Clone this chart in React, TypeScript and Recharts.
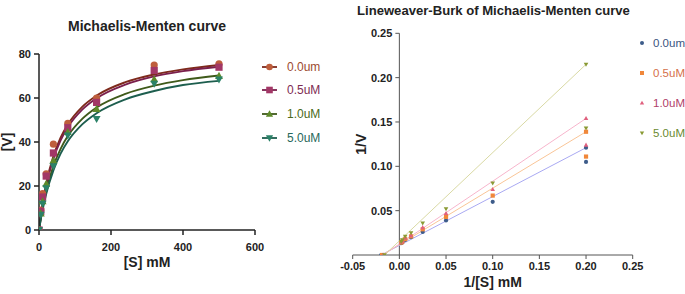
import React from 'react';
import {
  ComposedChart, Line, Scatter, XAxis, YAxis, Legend, ReferenceLine,
} from 'recharts';

// ---------- Left chart: Michaelis-Menten ----------
const mmSeriesNames = ['0.0um', '0.5uM', '1.0uM', '5.0uM'];
const mmS = [0, 5, 10, 20, 40, 80, 160, 320, 500];
const mmV00 = [0, 9, 16.5, 25.5, 39, 48.5, 60, 75, 75.5];
const mmV05 = [0, 8.5, 15, 24.5, 35, 46.5, 58, 72.5, 74];
const mmV10 = [0, 7.5, 13, 21, 31.5, 44.5, 55, 68.5, 70];
const mmV50 = [0, 7, 12, 19, 29, 43, 50.5, 66.5, 68.5];

// fitted curves
const fitS = [0, 5, 10, 20, 40, 60, 80, 120, 160, 240, 320, 400, 500];
const fitV00 = [0, 6.5, 12.0, 21.0, 33.6, 42.0, 48.0, 56.0, 61.1, 67.2, 70.7, 73.0, 75.0];
const fitV05 = [0, 6.1, 11.4, 20.1, 32.4, 40.7, 46.7, 54.7, 59.9, 66.1, 69.8, 72.2, 74.2];
const fitV10 = [0, 5.3, 10.0, 17.8, 29.1, 36.9, 42.7, 50.5, 55.7, 61.9, 65.6, 68.1, 70.2];
const fitV50 = [0, 4.9, 9.2, 16.4, 27.1, 34.7, 40.3, 48.0, 53.1, 59.4, 63.2, 65.9, 67.8];

const mmXTicks = [0, 200, 400, 600];
const mmYTicks = [0, 20, 40, 60, 80];

// ---------- Right chart: Lineweaver-Burk ----------
const lbX = [0.2, 0.2, 0.1, 0.05, 0.025, 0.0125, 0.00625, 0.003125, 0.002];
const lbY00 = [0.121, 0.105, 0.060, 0.039, 0.026, 0.020, 0.017, 0.014, 0.0135];
const lbY05 = [0.139, 0.111, 0.067, 0.043, 0.029, 0.021, 0.018, 0.015, 0.014];
const lbY10 = [0.154, 0.124, 0.074, 0.047, 0.031, 0.022, 0.019, 0.016, 0.0145];
const lbY50 = [0.215, 0.143, 0.081, 0.052, 0.036, 0.025, 0.021, 0.017, 0.015];
const lbIntercepts = [-0.0195, -0.0185, -0.0175, -0.016];
const lbLineEndX = 0.2;
const lbXTicks = [-0.05, 0, 0.05, 0.1, 0.15, 0.2, 0.25];
const lbYTicks = [0.05, 0.1, 0.15, 0.2, 0.25];

const FONT = '"Liberation Sans", Arial, sans-serif';

const zip = (xs: number[], ys: number[]) => xs.map((x, i) => ({ x, y: ys[i] }));

type Kind = 'circle' | 'square' | 'triangle' | 'triangleDown';

const markerPath = (kind: Kind, cx: number, cy: number, s: number, fill: string) => {
  if (kind === 'circle') return <circle cx={cx} cy={cy} r={s} fill={fill} />;
  if (kind === 'square') return <rect x={cx - s} y={cy - s} width={2 * s} height={2 * s} fill={fill} />;
  if (kind === 'triangle')
    return <polygon points={`${cx},${cy - s * 1.15} ${cx - s * 1.1},${cy + s * 0.8} ${cx + s * 1.1},${cy + s * 0.8}`} fill={fill} />;
  return <polygon points={`${cx},${cy + s * 1.15} ${cx - s * 1.1},${cy - s * 0.8} ${cx + s * 1.1},${cy - s * 0.8}`} fill={fill} />;
};

const shapeOf = (kind: Kind, fill: string, s: number) => (props: any) => {
  const { cx, cy } = props;
  if (cx == null || cy == null) return <g />;
  return markerPath(kind, cx, cy, s, fill);
};

const kinds: Kind[] = ['circle', 'square', 'triangle', 'triangleDown'];

// left colours
const mmLineColors = ['#7E2A1C', '#7A1F4C', '#3F5A1A', '#1D5E4E'];
const mmMarkerColors = ['#BE5E3C', '#A23766', '#5E8A2A', '#2B8268'];
const mmTextColors = ['#9C4A30', '#7E2C52', '#4A6A20', '#27685A'];

// right colours
const lbLineColors = ['#A9A9F2', '#F9C597', '#F7B5CC', '#D9D9A4'];
const lbMarkerColors = ['#3D5C8A', '#F0873A', '#E0607E', '#8A9A34'];
const lbTextColors = ['#3A5580', '#D5704A', '#B04068', '#6A8A30'];

const mmPoints = [mmV00, mmV05, mmV10, mmV50].map((v) => zip(mmS, v));
const mmFits = [fitV00, fitV05, fitV10, fitV50].map((v) => zip(fitS, v));
const lbPointsAll = [lbY00, lbY05, lbY10, lbY50].map((v, i) => [
  ...zip(lbX, v),
  { x: lbIntercepts[i], y: 0 },
]);
const lbLines = [lbY00, lbY05, lbY10, lbY50].map((v, i) => [
  { x: lbIntercepts[i], y: 0 },
  { x: lbLineEndX, y: v[0] },
]);

const LeftLegend = () => (
  <div style={{ fontFamily: FONT, fontSize: 12 }}>
    {mmSeriesNames.map((n, i) => (
      <div key={n} style={{ display: 'flex', alignItems: 'center', height: 23.6 }}>
        <svg width={16} height={12} style={{ marginRight: 9 }}>
          <line x1={0} x2={15} y1={6} y2={6} stroke={mmLineColors[i]} strokeWidth={1.8} />
          {markerPath(kinds[i], 7.5, 6, 3.3, mmMarkerColors[i])}
        </svg>
        <span style={{ color: mmTextColors[i] }}>{n}</span>
      </div>
    ))}
  </div>
);

const RightLegend = () => (
  <div style={{ fontFamily: FONT, fontSize: 11.5, whiteSpace: 'nowrap' }}>
    {mmSeriesNames.map((n, i) => (
      <div key={n} style={{ display: 'flex', alignItems: 'center', height: 30 }}>
        <svg width={8} height={10} style={{ marginRight: 7 }}>
          {markerPath(kinds[i], 4, 5, 2, lbMarkerColors[i])}
        </svg>
        <span style={{ color: lbTextColors[i] }}>{n}</span>
      </div>
    ))}
  </div>
);

const tickStyle = { fontFamily: FONT, fontSize: 11, fontWeight: 700, fill: '#222' };
const labelStyle = { fontFamily: FONT, fontSize: 14, fontWeight: 700, fill: '#222' };

// right chart geometry (chart-local)
const R_PLOT_LEFT = 22.7;
const R_PLOT_W = 280;
const R_YAXIS_X = R_PLOT_LEFT + R_PLOT_W / 6;

const RightYTick = (props: any) => {
  const { y, payload } = props;
  return (
    <g>
      <line x1={R_YAXIS_X - 4} x2={R_YAXIS_X} y1={y} y2={y} stroke="#555" />
      <text x={R_YAXIS_X - 7} y={y} dy="0.36em" textAnchor="end" style={tickStyle}>
        {Number(payload.value).toFixed(2)}
      </text>
    </g>
  );
};

export default function App() {
  return (
    <div style={{ position: 'absolute', left: 0, top: 0, width: 685, height: 294, background: '#fff', overflow: 'hidden' }}>
      <div style={{ position: 'absolute', left: 39, width: 216, top: 18, textAlign: 'center', fontFamily: FONT, fontWeight: 700, fontSize: 14, color: '#222', whiteSpace: 'nowrap' }}>
        Michaelis-Menten curve
      </div>
      <div style={{ position: 'absolute', left: 357, top: 3, fontFamily: FONT, fontWeight: 700, fontSize: 13.1, color: '#222', whiteSpace: 'nowrap' }}>
        Lineweaver-Burk of Michaelis-Menten curve
      </div>

      <div style={{ position: 'absolute', left: 0, top: 0 }}>
        <ComposedChart width={330} height={294} margin={{ top: 54, right: 75, bottom: 34, left: 0 }}>
          <XAxis
            type="number" dataKey="x" domain={[0, 600]} ticks={mmXTicks} allowDataOverflow
            tickSize={5} tickMargin={8} height={30}
            stroke="#222" strokeWidth={1.5} tick={tickStyle}
            label={{ value: '[S] mM', position: 'center', dy: 17, style: labelStyle }}
          />
          <YAxis
            type="number" dataKey="y" domain={[0, 80]} ticks={mmYTicks} allowDataOverflow
            tickSize={5} tickMargin={3} width={39}
            stroke="#222" strokeWidth={1.5} tick={tickStyle}
            label={{ value: '[V]', angle: -90, position: 'center', dx: -12, style: labelStyle }}
          />
          {mmFits.map((d, i) => (
            <Line key={'f' + i} data={d} dataKey="y" type="monotone" stroke={mmLineColors[i]} strokeWidth={1.9}
              dot={false} activeDot={false} isAnimationActive={false} />
          ))}
          {mmPoints.map((d, i) => (
            <Scatter key={'p' + i} data={d} dataKey="y" shape={shapeOf(kinds[i], mmMarkerColors[i], 3.6)} isAnimationActive={false} />
          ))}
          <Legend layout="horizontal" verticalAlign="middle" align="center" content={() => <LeftLegend />}
            wrapperStyle={{ left: 262, top: 55, width: 70 }} />
        </ComposedChart>
      </div>

      <div style={{ position: 'absolute', left: 330, top: 0 }}>
        <ComposedChart width={355} height={294} margin={{ top: 33.3, right: 52.3, bottom: 0, left: 2.7 }}>
          <XAxis
            type="number" dataKey="x" domain={[-0.05, 0.25]} ticks={lbXTicks} allowDataOverflow
            tickSize={4} tickMargin={3} height={39}
            stroke="#555" tick={tickStyle}
            tickFormatter={(v: number) => v.toFixed(2)}
            label={{ value: '1/[S] mM', position: 'center', dy: 8, style: labelStyle }}
          />
          <YAxis
            type="number" dataKey="y" domain={[0, 0.25]} ticks={lbYTicks} allowDataOverflow
            width={20} axisLine={false} tickLine={false} tick={<RightYTick />}
            label={{ value: '1/V', angle: -90, position: 'center', dx: 18, style: labelStyle }}
          />
          <ReferenceLine x={0} stroke="#555" strokeWidth={1} ifOverflow="visible" />
          {lbLines.map((d, i) => (
            <Line key={'l' + i} data={d} dataKey="y" type="linear" stroke={lbLineColors[i]} strokeWidth={1}
              dot={false} activeDot={false} isAnimationActive={false} />
          ))}
          {lbPointsAll.map((d, i) => (
            <Scatter key={'q' + i} data={d} dataKey="y" shape={shapeOf(kinds[i], lbMarkerColors[i], 2.1)} isAnimationActive={false} />
          ))}
          <Legend layout="horizontal" verticalAlign="middle" align="center" content={() => <RightLegend />}
            wrapperStyle={{ left: 308, top: 28, width: 50 }} />
        </ComposedChart>
      </div>
    </div>
  );
}
